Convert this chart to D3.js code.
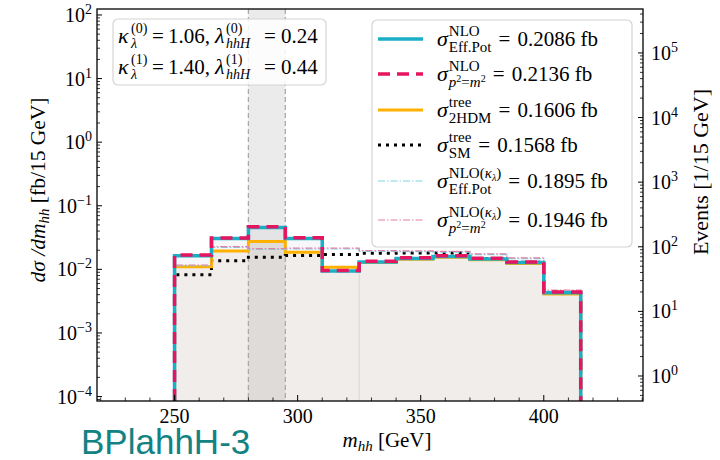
<!DOCTYPE html>
<html><head><meta charset="utf-8">
<script src="https://cdn.jsdelivr.net/npm/d3@7"></script>
<style>body{margin:0;background:#fff}svg{display:block}</style>
</head><body>
<svg id="c" width="720" height="460"></svg>
<script>
// ---------- data ----------
const binEdges = [250,265,280,295,310,325,340,355,370,385,400,415];
const nloEffPot = [0.0164,0.0306,0.0455,0.0306,0.0094,0.0131,0.0148,0.0159,0.0145,0.0128,0.0043];
const nloP2m2   = [0.0168,0.0312,0.0466,0.0314,0.0096,0.0134,0.0152,0.0163,0.0149,0.0131,0.0044];
const tree2HDM  = [0.0110,0.0194,0.0273,0.0186,0.0108,0.0128,0.0144,0.0155,0.0141,0.0124,0.0041];
const treeSM    = [0.0082,0.0137,0.0155,0.0165,0.0172,0.0179,0.0180,0.0180,0.0147,0.0129,0.0043];
const kapEffPot = [0.0114,0.0222,0.0206,0.0209,0.0209,0.0192,0.0190,0.0187,0.0170,0.0148,0.0046];
const kapP2m2   = [0.0117,0.0228,0.0212,0.0215,0.0215,0.0197,0.0195,0.0192,0.0175,0.0152,0.0047];
const band = [280,295];
const xTicks = [250,300,350,400];
const legendValues = ["0.2086","0.2136","0.1606","0.1568","0.1895","0.1946"];
const kappaVals = ["1.06","1.40"];
const lamVals = ["0.24","0.44"];

// ---------- layout ----------
const svg = d3.select("#c");
const L=97, R=643, T=9, B=401;
const x = d3.scaleLinear().domain([218.5,440.3]).range([L,R]);
const y = d3.scaleLog().domain([Math.pow(10,-4.07),Math.pow(10,2.094)]).range([B,T]);
const y2 = d3.scaleLog().domain([Math.pow(10,-0.387),Math.pow(10,5.68)]).range([B,T]);
const serif = "'Liberation Serif','Times New Roman',serif";

svg.append("clipPath").attr("id","clip").append("rect").attr("x",L).attr("y",T).attr("width",R-L).attr("height",B-T);
const plot = svg.append("g").attr("clip-path","url(#clip)");

function stepPts(vals){
  const yb = y.domain()[0];
  const p=[[binEdges[0],yb]];
  vals.forEach((v,i)=>{p.push([binEdges[i],v]);p.push([binEdges[i+1],v]);});
  p.push([binEdges[binEdges.length-1],yb]);
  return p;
}
const line = d3.line().x(d=>x(d[0])).y(d=>y(d[1]));

// fills
plot.append("path").attr("d",line(stepPts(nloEffPot))+"Z").attr("fill","#d8d8e8").attr("opacity",0.2);
plot.append("path").attr("d",line(stepPts(tree2HDM))+"Z").attr("fill","#bb9d64").attr("opacity",0.1);
plot.append("line").attr("x1",x(325)).attr("x2",x(325)).attr("y1",y(nloEffPot[5])).attr("y2",B)
  .attr("stroke","#d8d8d8").attr("stroke-width",1);

// band
plot.append("rect").attr("x",x(band[0])).attr("width",x(band[1])-x(band[0])).attr("y",T).attr("height",B-T)
  .attr("fill","#777").attr("opacity",0.15);
band.forEach(b=>plot.append("line").attr("x1",x(b)).attr("x2",x(b)).attr("y1",T).attr("y2",B)
  .attr("stroke","#aaa").attr("stroke-width",1.3).attr("stroke-dasharray","5,3"));

// lines
const series = [
  {v:treeSM, c:"#000", w:3, dash:"3,5"},
  {v:tree2HDM, c:"#ffb000", w:3, dash:null},
  {v:kapEffPot, c:"#7fd3e0", w:1.2, dash:"7,2,1.5,2"},
  {v:kapP2m2, c:"#e47fa8", w:1.2, dash:"7,2,1.5,2"},
  {v:nloEffPot, c:"#1aafc6", w:3.5, dash:null},
  {v:nloP2m2, c:"#e5155f", w:3.5, dash:"12,7"}
];
series.forEach(s=>{
  plot.append("path").attr("d",line(stepPts(s.v))).attr("fill","none").attr("stroke",s.c)
    .attr("stroke-width",s.w).attr("stroke-dasharray",s.dash).attr("stroke-linejoin","miter");
});

// ---------- axes ----------
const ax = svg.append("g");
ax.append("rect").attr("x",L).attr("y",T).attr("width",R-L).attr("height",B-T)
  .attr("fill","none").attr("stroke","#000").attr("stroke-width",1.3);

d3.range(220,441,10).forEach(v=>{
  const major = xTicks.includes(v);
  ax.append("line").attr("x1",x(v)).attr("x2",x(v)).attr("y1",B).attr("y2",B-(major?6:3.5))
    .attr("stroke","#000").attr("stroke-width",major?1:0.8);
});
xTicks.forEach(v=>ax.append("text").attr("x",x(v)).attr("y",423).attr("text-anchor","middle")
  .attr("font-family",serif).attr("font-size",20).text(v));

function powLabel(g,xx,yy,exp,anchor){
  const t = g.append("text").attr("y",yy).attr("font-family",serif).attr("font-size",20);
  t.append("tspan").text("10");
  t.append("tspan").attr("dy",-8).attr("font-size",14).text(exp<0?"\u2212"+(-exp):exp);
  const w = t.node().getComputedTextLength();
  t.attr("x", anchor==="end"? xx-w : xx);
}
for(let e=-5;e<=2;e++){
  for(let m=1;m<10;m++){
    const v=m*Math.pow(10,e);
    if(v<y.domain()[0]||v>y.domain()[1]) continue;
    const yy=y(v);
    ax.append("line").attr("x1",L).attr("x2",L+(m===1?5:3)).attr("y1",yy).attr("y2",yy)
      .attr("stroke","#000").attr("stroke-width",m===1?1:0.8);
    if(m===1) powLabel(ax,92,yy+7,e,"end");
  }
}
for(let e=-1;e<=6;e++){
  for(let m=1;m<10;m++){
    const v=m*Math.pow(10,e);
    if(v<y2.domain()[0]||v>y2.domain()[1]) continue;
    const yy=y2(v);
    ax.append("line").attr("x1",R).attr("x2",R-(m===1?5:3)).attr("y1",yy).attr("y2",yy)
      .attr("stroke","#000").attr("stroke-width",m===1?1:0.8);
    if(m===1) powLabel(ax,651,yy+7,e,"start");
  }
}

// axis labels
const xl = svg.append("text").attr("x",387).attr("y",447).attr("text-anchor","middle")
  .attr("font-family",serif).attr("font-size",21);
xl.append("tspan").attr("font-style","italic").text("m");
xl.append("tspan").attr("font-style","italic").attr("font-size",15).attr("dy",4).text("hh");
xl.append("tspan").attr("dy",-4).text(" [GeV]");

const yl = svg.append("text").attr("transform","translate(45,190) rotate(-90)").attr("text-anchor","middle")
  .attr("font-family",serif).attr("font-size",21.5);
yl.append("tspan").attr("font-style","italic").text("d\u03c3 /dm");
yl.append("tspan").attr("font-style","italic").attr("font-size",15).attr("dy",4).text("hh");
yl.append("tspan").attr("dy",-4).text(" [fb/15 GeV]");

svg.append("text").attr("transform","translate(708,172) rotate(-90)").attr("text-anchor","middle")
  .attr("font-family",serif).attr("font-size",22).text("Events [1/15 GeV]");

// title
svg.append("text").attr("x",81).attr("y",454).attr("font-family","'Liberation Sans',Arial,sans-serif")
  .attr("font-size",35).attr("fill","#128282").text("BPlahhH-3");

// ---------- rich text helper ----------
function rich(g,xx,yy,size,segs){
  const t=g.append("text").attr("x",xx).attr("y",yy).attr("font-family",serif).attr("font-size",size);
  let cur=0;
  segs.forEach(s=>{
    const sh=s.shift||0;
    t.append("tspan").attr("dy",cur-sh).attr("font-size",s.size||size)
      .attr("font-style",s.it?"italic":"normal").text(s.t);
    cur=sh;
  });
  return t.node().getComputedTextLength();
}

// legend
const lg = svg.append("g");
lg.append("rect").attr("x",372).attr("y",20).attr("width",260).attr("height",227).attr("rx",5)
  .attr("fill","#fff").attr("fill-opacity",0.85).attr("stroke","#d4d4d4").attr("stroke-width",1.2);
const supNLO=[{t:"NLO"}];
const supTree=[{t:"tree"}];
const supK=[{t:"NLO("},{t:"\u03ba",it:true},{t:"\u03bb",it:true,size:10,shift:-3},{t:")"}];
const subEff=[{t:"Eff.Pot"}];
const subP=[{t:"p",it:true},{t:"2",size:10,shift:5},{t:"=",shift:0},{t:"m",it:true},{t:"2",size:10,shift:5}];
const legRows = [
  {sup:supNLO,sub:subEff,s:series[4]},
  {sup:supNLO,sub:subP,s:series[5]},
  {sup:supTree,sub:[{t:"2HDM"}],s:series[1]},
  {sup:supTree,sub:[{t:"SM"}],s:series[0]},
  {sup:supK,sub:subEff,s:series[2]},
  {sup:supK,sub:subP,s:series[3]}
];
const baselines=[46,81,117,152,188,227];
legRows.forEach((r,i)=>{
  const by=baselines[i];
  lg.append("line").attr("x1",378).attr("x2",423).attr("y1",by-7).attr("y2",by-7)
    .attr("stroke",r.s.c).attr("stroke-width",r.s.w).attr("stroke-dasharray",r.s.dash);
  const sw = rich(lg,437,by,22,[{t:"\u03c3",it:true}]);
  const sx = 437+sw+1;
  const w1 = rich(lg,sx,by-10,15,r.sup);
  const w2 = rich(lg,sx,by+6,15,r.sub);
  const ex = sx+Math.max(w1,w2)+7;
  rich(lg,ex,by,21,[{t:"="}]);
  rich(lg,ex+19,by,21,[{t:legendValues[i]+" fb"}]);
});

// annotation box
const an = svg.append("g");
an.append("rect").attr("x",113).attr("y",19).attr("width",213).attr("height",66).attr("rx",5)
  .attr("fill","#fff").attr("fill-opacity",0.85).attr("stroke","#d4d4d4").attr("stroke-width",1.2);
[43,74].forEach((by,i)=>{
  rich(an,118,by,22,[{t:"\u03ba",it:true}]);
  rich(an,131,by-10,14,[{t:"("+i+")"}]);
  rich(an,131,by+5,14,[{t:"\u03bb",it:true}]);
  rich(an,152,by,21,[{t:"="}]);
  rich(an,168,by,21,[{t:kappaVals[i]+","}]);
  rich(an,215,by,22,[{t:"\u03bb",it:true}]);
  rich(an,226,by-10,14,[{t:"("+i+")"}]);
  rich(an,226,by+5,14,[{t:"hhH",it:true}]);
  rich(an,264,by,21,[{t:"="}]);
  rich(an,281,by,21,[{t:lamVals[i]}]);
});
</script>
</body></html>
